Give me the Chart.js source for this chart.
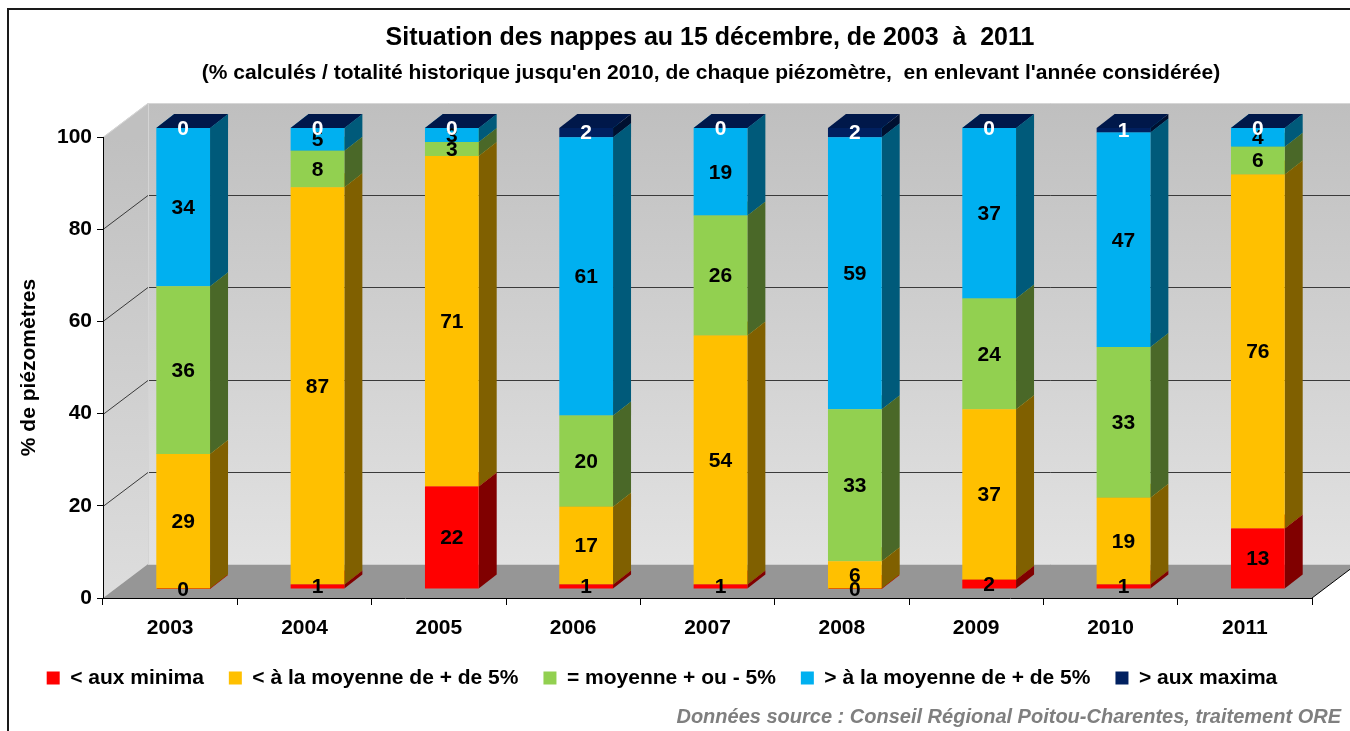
<!DOCTYPE html>
<html>
<head>
<meta charset="utf-8">
<title>Situation des nappes au 15 décembre</title>
<script src="https://cdn.jsdelivr.net/npm/chart.js@4.4.1/dist/chart.umd.min.js"></script>
<style>
  html, body { margin: 0; padding: 0; background: #fff; }
  #wrap { position: relative; width: 1350px; height: 731px; }
</style>
</head>
<body>
<div id="wrap"><canvas id="nappes"></canvas></div>
<script>
const years = ['2003', '2004', '2005', '2006', '2007', '2008', '2009', '2010', '2011'];
const auxMinima = [0, 1, 22, 1, 1, 0, 2, 1, 13];
const sousMoyenne = [29, 87, 71, 17, 54, 6, 37, 19, 76];
const moyenne = [36, 8, 3, 20, 26, 33, 24, 33, 6];
const surMoyenne = [34, 5, 3, 61, 19, 59, 37, 47, 4];
const auxMaxima = [0, 0, 0, 2, 0, 2, 0, 1, 0];
const yTicks = [0, 20, 40, 60, 80, 100];

const seriesNames = ['< aux minima', '< à la moyenne de + de 5%', '= moyenne + ou - 5%', '> à la moyenne de + de 5%', '> aux maxima'];
const seriesValues = [auxMinima, sousMoyenne, moyenne, surMoyenne, auxMaxima];
const frontColors = ['#ff0000', '#ffc000', '#92d050', '#00b0f0', '#002060'];
const sideColors = ['#800000', '#806000', '#4a6828', '#005a7a', '#001030'];
const topColors = ['#c00000', '#c09000', '#6e9c3c', '#0084b4', '#00184a'];
const labelColors = ['#000', '#000', '#000', '#000', '#fff'];

const FONT = "'Liberation Sans', Arial, sans-serif";
const WALL = { x: 45, y: -34 };   // depth of the floor / back wall
const SHIFT = { x: 13, y: -9 };   // bars stand a bit behind the front plane
const BAR = { x: 18, y: -14 };    // depth of one column

// stacked to 100 % like the original sheet, labels keep the rounded values
const totals = years.map((_, j) => seriesValues.reduce((s, arr) => s + arr[j], 0));
const share = (arr) => arr.map((v, j) => v * 100 / totals[j]);

function poly(ctx, pts, fill) {
  ctx.beginPath();
  ctx.moveTo(pts[0][0], pts[0][1]);
  for (let k = 1; k < pts.length; k++) ctx.lineTo(pts[k][0], pts[k][1]);
  ctx.closePath();
  ctx.fillStyle = fill;
  ctx.fill();
}

function line(ctx, x1, y1, x2, y2, color) {
  ctx.beginPath();
  ctx.moveTo(x1, y1);
  ctx.lineTo(x2, y2);
  ctx.strokeStyle = color;
  ctx.lineWidth = 1;
  ctx.stroke();
}

const box3d = {
  id: 'box3d',
  beforeDraw(chart) {
    const { ctx, chartArea: a, scales: { y } } = chart;
    const y0 = y.getPixelForValue(0);
    const y100 = y.getPixelForValue(100);
    const L = a.left, R = a.right;
    ctx.save();
    ctx.fillStyle = '#fff';
    ctx.fillRect(0, 0, chart.width, chart.height);

    const grad = ctx.createLinearGradient(0, y100 + WALL.y, 0, y0 + WALL.y);
    grad.addColorStop(0, '#bfbfbf');
    grad.addColorStop(1, '#e2e2e2');
    poly(ctx, [[L + WALL.x, y100 + WALL.y], [R + WALL.x, y100 + WALL.y], [R + WALL.x, y0 + WALL.y], [L + WALL.x, y0 + WALL.y]], grad);
    const gradSide = ctx.createLinearGradient(0, y100, 0, y0);
    gradSide.addColorStop(0, '#c0c0c0');
    gradSide.addColorStop(1, '#dddddd');
    poly(ctx, [[L, y100], [L + WALL.x, y100 + WALL.y], [L + WALL.x, y0 + WALL.y], [L, y0]], gradSide);
    poly(ctx, [[L, y0], [R, y0], [R + WALL.x, y0 + WALL.y], [L + WALL.x, y0 + WALL.y]], '#969696');

    yTicks.forEach((v) => {
      const py = Math.round(y.getPixelForValue(v)) + 0.5;
      if (v === 0) {
        line(ctx, L + WALL.x, py + WALL.y, R + WALL.x, py + WALL.y, '#cfcfcf');
        return;
      }
      const c = v === 100 ? '#d6d6d6' : '#3a3a3a';
      line(ctx, L, py, L + WALL.x, py + WALL.y, c);
      line(ctx, L + WALL.x, py + WALL.y, R + WALL.x, py + WALL.y, c);
    });
    line(ctx, L + WALL.x + 0.5, y100 + WALL.y, L + WALL.x + 0.5, y0 + WALL.y, '#d4d4d4');
    line(ctx, R, y0, R + WALL.x, y0 + WALL.y, '#000');
    ctx.restore();
  },
  beforeDatasetsDraw(chart) {
    const { ctx } = chart;
    ctx.save();
    ctx.translate(SHIFT.x, SHIFT.y);
    years.forEach((_, j) => {
      seriesValues.forEach((_, i) => {
        const bar = chart.getDatasetMeta(i).data[j];
        const { x, y, base, width } = bar.getProps(['x', 'y', 'base', 'width'], true);
        const x0 = x - width / 2, x1 = x + width / 2;
        poly(ctx, [[x1, y], [x1 + BAR.x, y + BAR.y], [x1 + BAR.x, base + BAR.y], [x1, base]], sideColors[i]);
        poly(ctx, [[x0, y], [x0 + BAR.x, y + BAR.y], [x1 + BAR.x, y + BAR.y], [x1, y]], topColors[i]);
      });
    });
  },
  afterDatasetsDraw(chart) {
    const { ctx } = chart;
    ctx.font = 'bold 21px ' + FONT;
    ctx.textAlign = 'center';
    ctx.textBaseline = 'middle';
    seriesValues.forEach((values, i) => {
      chart.getDatasetMeta(i).data.forEach((bar, j) => {
        const { x, y, base } = bar.getProps(['x', 'y', 'base'], true);
        ctx.fillStyle = labelColors[i];
        ctx.fillText(String(values[j]), x, (y + base) / 2 + 1);
      });
    });
    ctx.restore();
  },
  afterDraw(chart) {
    const { ctx } = chart;
    ctx.save();
    ctx.fillStyle = '#000';
    ctx.textAlign = 'center';
    ctx.textBaseline = 'middle';
    ctx.font = 'bold 25px ' + FONT;
    ctx.fillText('Situation des nappes au 15 décembre, de 2003  à  2011', 710, 38);
    ctx.font = 'bold 21px ' + FONT;
    ctx.fillText("(% calculés / totalité historique jusqu'en 2010, de chaque piézomètre,  en enlevant l'année considérée)", 711, 73);
    ctx.fillStyle = '#7f7f7f';
    ctx.textAlign = 'right';
    ctx.font = 'italic bold 20px ' + FONT;
    ctx.fillText('Données source : Conseil Régional Poitou-Charentes, traitement ORE', 1341, 717);
    ctx.fillStyle = '#1a1a1a';
    ctx.fillRect(7, 8, 2, chart.height - 8);
    ctx.fillRect(7, 8, chart.width - 7, 2);
    ctx.restore();
  }
};

new Chart(document.getElementById('nappes'), {
  type: 'bar',
  data: {
    labels: years,
    datasets: seriesValues.map((values, i) => ({
      label: seriesNames[i],
      data: share(values),
      backgroundColor: frontColors[i],
      borderWidth: 0,
      clip: false
    }))
  },
  options: {
    responsive: true,
    maintainAspectRatio: false,
    animation: false,
    events: [],
    barPercentage: 0.4,
    categoryPercentage: 1,
    layout: { padding: { top: 137, left: 12, right: 38, bottom: 32.5 } },
    plugins: {
      title: { display: false },
      tooltip: { enabled: false },
      legend: {
        position: 'bottom',
        labels: {
          boxWidth: 13,
          boxHeight: 13,
          padding: 25,
          color: '#000',
          font: { family: FONT, size: 21, weight: 'bold' }
        }
      }
    },
    scales: {
      x: {
        stacked: true,
        afterFit: (s) => { s.height = 44.5; },
        grid: { offset: true, drawOnChartArea: false, tickLength: 7, color: '#000' },
        border: { display: true, color: '#000', width: 1 },
        ticks: { color: '#000', padding: 11, font: { family: FONT, size: 21, weight: 'bold' } }
      },
      y: {
        stacked: true,
        min: 0,
        max: 100,
        afterFit: (s) => { s.width = 91; },
        afterBuildTicks: (s) => { s.ticks = yTicks.map((v) => ({ value: v })); },
        grid: { drawOnChartArea: false, tickLength: 6, color: '#000' },
        border: { display: true, color: '#000', width: 1 },
        ticks: { color: '#000', padding: 5, font: { family: FONT, size: 21, weight: 'bold' } },
        title: {
          display: true,
          text: '% de piézomètres',
          color: '#000',
          padding: { top: 5, bottom: 0 },
          font: { family: FONT, size: 21, weight: 'bold' }
        }
      }
    }
  },
  plugins: [box3d]
});
</script>
</body>
</html>
